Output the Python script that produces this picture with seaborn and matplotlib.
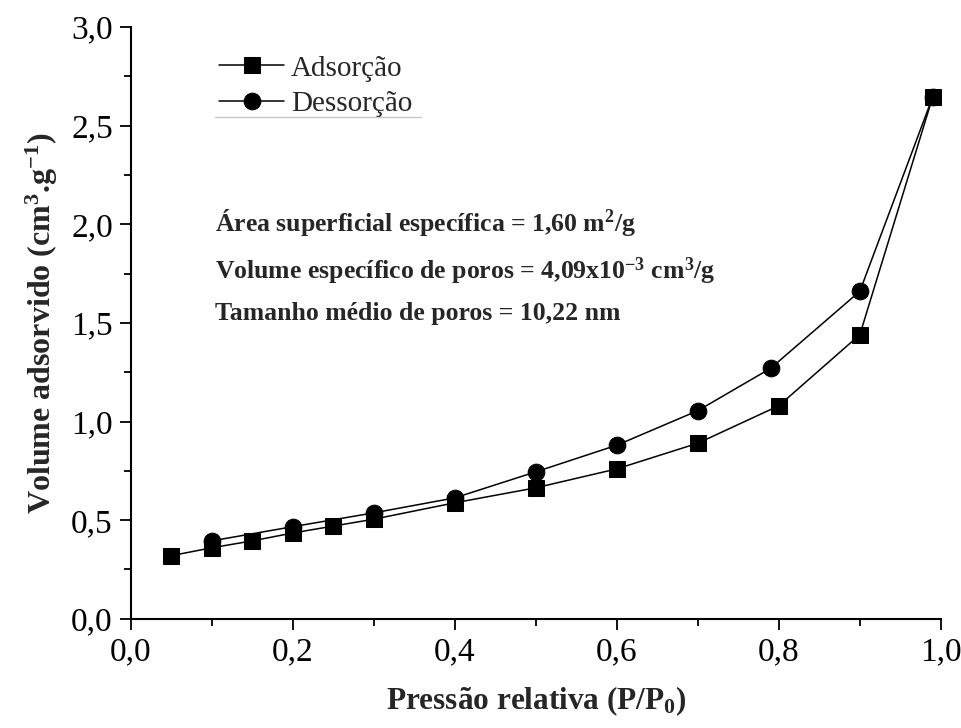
import numpy as np
import pandas as pd
import seaborn as sns
import matplotlib
matplotlib.use("Agg")
import matplotlib.pyplot as plt
from matplotlib.ticker import MultipleLocator, FuncFormatter

# Relative pressure (P/P0) and adsorbed volume (cm3/g)
p_ads = [0.05, 0.10, 0.15, 0.20, 0.25, 0.30, 0.40, 0.50, 0.60, 0.70, 0.80, 0.90, 0.99]
v_ads = [0.32, 0.36, 0.395, 0.435, 0.47, 0.505, 0.588, 0.664, 0.76, 0.89, 1.08, 1.44, 2.646]
p_des = [0.10, 0.20, 0.30, 0.40, 0.50, 0.60, 0.70, 0.79, 0.90, 0.99]
v_des = [0.395, 0.467, 0.537, 0.613, 0.745, 0.88, 1.055, 1.27, 1.66, 2.646]

series_names = ["Adsorção", "Dessorção"]
info_lines = [
    r"Área superficial específica = 1,60 m$^{\mathbf{2}}$/g",
    r"Volume específico de poros = 4,09x10$^{\mathbf{-3}}$ cm$^{\mathbf{3}}$/g",
    r"Tamanho médio de poros = 10,22 nm",
]
x_ticks = [0.0, 0.2, 0.4, 0.6, 0.8, 1.0]
y_ticks = [0.0, 0.5, 1.0, 1.5, 2.0, 2.5, 3.0]

sns.set_theme(style="ticks")
plt.rcParams["font.family"] = ["Liberation Serif", "DejaVu Serif"]
plt.rcParams["mathtext.fontset"] = "custom"
plt.rcParams["mathtext.rm"] = "Liberation Serif"
plt.rcParams["mathtext.bf"] = "Liberation Serif:bold"
plt.rcParams["mathtext.it"] = "Liberation Serif:italic"

df_ads = pd.DataFrame({"p": p_ads, "v": v_ads})
df_des = pd.DataFrame({"p": p_des, "v": v_des})

fig = plt.figure(figsize=(9.62, 7.28), dpi=100)
ax = fig.add_axes([0.136, 0.150, 0.842, 0.813])

sns.lineplot(data=df_ads, x="p", y="v", ax=ax, color="black", marker="s",
             markersize=11, linewidth=1.1, markeredgecolor="black",
             label=series_names[0], sort=False)
sns.lineplot(data=df_des, x="p", y="v", ax=ax, color="black", marker="o",
             markersize=12, linewidth=1.1, markeredgecolor="black",
             label=series_names[1], sort=False)

ax.set_xlim(0, 1.0)
ax.set_ylim(0, 3.0)
ax.set_xticks(x_ticks)
ax.set_yticks(y_ticks)
ax.xaxis.set_minor_locator(MultipleLocator(0.1))
ax.yaxis.set_minor_locator(MultipleLocator(0.25))
comma = FuncFormatter(lambda v, pos: f"{v:.1f}".replace(".", ","))
ax.xaxis.set_major_formatter(comma)
ax.yaxis.set_major_formatter(comma)

ax.tick_params(axis="both", which="major", direction="out", length=8, width=1.3,
               labelsize=24, color="black", labelcolor="black", pad=5)
ax.tick_params(axis="both", which="minor", direction="out", length=5, width=1.3,
               color="black")
for side in ("left", "bottom"):
    ax.spines[side].set_linewidth(1.5)
    ax.spines[side].set_color("black")
for side in ("top", "right"):
    ax.spines[side].set_visible(False)

ax.set_xlabel(r"Pressão relativa (P/P$_{\mathbf{0}}$)", fontsize=22.5,
              fontweight="bold", labelpad=12)
ax.set_ylabel(r"Volume adsorvido (cm$^{\mathbf{3}}$.g$^{\mathbf{-1}}$)", fontsize=23,
              fontweight="bold", labelpad=8)

leg = ax.legend(loc="upper left", bbox_to_anchor=(0.095, 0.972), frameon=False,
                fontsize=21, handlelength=2.2, handletextpad=0.25,
                labelspacing=0.32, borderaxespad=0)

# thin rule beneath the legend
ax.plot([0.104, 0.358], [0.847, 0.847], transform=ax.transAxes,
        color="#c8c8c8", linewidth=1.0, clip_on=False)

for y, txt in zip([2.01, 1.76, 1.55], info_lines):
    ax.text(0.104, y, txt, fontsize=18.5, fontweight="bold", va="center", ha="left")

fig.savefig("out.png", dpi=100)
